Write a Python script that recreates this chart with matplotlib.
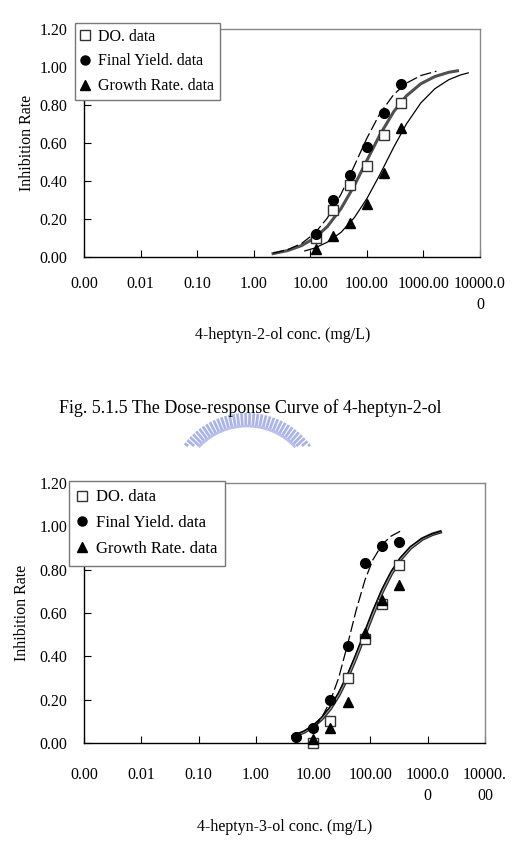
import numpy as np
import matplotlib
matplotlib.use("Agg")
import matplotlib.pyplot as plt
from matplotlib.lines import Line2D
from matplotlib.ticker import NullLocator

plt.rcParams['font.family'] = ['Liberation Serif', 'DejaVu Serif']
plt.rcParams['font.size'] = 11.5

# ---- data ----
# 4-heptyn-2-ol (top)
conc_top = [12.5, 25, 50, 100, 200, 400]
do_top = [0.10, 0.25, 0.38, 0.48, 0.64, 0.81]
fy_top = [0.12, 0.30, 0.43, 0.58, 0.76, 0.91]
gr_top = [0.04, 0.11, 0.18, 0.28, 0.44, 0.68]

# fitted curves
do_top_cx = [2.2, 4, 7, 12, 20, 35, 60, 100, 170, 300, 500, 900, 1600, 2800, 4000]
do_top_cy = [0.018, 0.034, 0.060, 0.100, 0.160, 0.255, 0.376, 0.508, 0.643, 0.766,
             0.848, 0.912, 0.950, 0.972, 0.980]
fy_top_cx = [2.2, 4, 7, 12, 20, 35, 60, 100, 170, 300, 500, 900, 1700]
fy_top_cy = [0.020, 0.039, 0.071, 0.125, 0.205, 0.331, 0.480, 0.625, 0.755, 0.856,
             0.915, 0.955, 0.978]
gr_top_cx = [8, 12, 20, 35, 60, 100, 170, 300, 500, 900, 1600, 2800, 4500, 6200]
gr_top_cy = [0.032, 0.047, 0.078, 0.130, 0.207, 0.307, 0.434, 0.579, 0.700, 0.811,
             0.886, 0.933, 0.958, 0.969]

# 4-heptyn-3-ol (bottom)
conc_bot = [5, 10, 20, 40, 80, 160, 320]
conc_bot_do = [10, 20, 40, 80, 160, 320]
do_bot = [0.00, 0.10, 0.30, 0.48, 0.64, 0.82]
fy_bot = [0.03, 0.07, 0.20, 0.45, 0.83, 0.91, 0.93]
gr_bot = [0.02, 0.07, 0.19, 0.51, 0.66, 0.73]

fy_bot_cx = [10, 14, 20, 28, 40, 56, 80, 110, 160, 230, 330]
fy_bot_cy = [0.065, 0.115, 0.195, 0.302, 0.456, 0.610, 0.751, 0.845, 0.916, 0.955, 0.977]
bot_cx = [4.5, 7, 10, 14, 20, 28, 40, 56, 80, 110, 160, 230, 330, 500, 800, 1200, 1650]
do_bot_cy = [0.031, 0.051, 0.076, 0.110, 0.159, 0.221, 0.303, 0.395, 0.500, 0.594,
             0.697, 0.780, 0.846, 0.900, 0.941, 0.963, 0.974]
gr_bot_cy = [0.033, 0.055, 0.082, 0.118, 0.170, 0.235, 0.320, 0.413, 0.519, 0.613,
             0.713, 0.793, 0.855, 0.907, 0.945, 0.965, 0.976]

xticks = [1e-3, 1e-2, 1e-1, 1, 10, 100, 1000, 10000]
xlabels_top = ['0.00', '0.01', '0.10', '1.00', '10.00', '100.00', '1000.00', '10000.0\n0']
xlabels_bot = ['0.00', '0.01', '0.10', '1.00', '10.00', '100.00', '1000.0\n0', '10000.\n00']
yticks = [0, 0.2, 0.4, 0.6, 0.8, 1.0, 1.2]
legend_labels = ['DO. data', 'Final Yield. data', 'Growth Rate. data']

W, H = 517, 858
fig = plt.figure(figsize=(W / 100, H / 100), dpi=100)


def px_axes(l, t, r, b):
    return fig.add_axes([l / W, 1 - b / H, (r - l) / W, (b - t) / H])


def style(ax, xlabels, pad):
    ax.set_xscale('log')
    ax.set_xlim(1e-3, 1e4)
    ax.set_ylim(0, 1.2)
    ax.set_xticks(xticks, xlabels)
    ax.xaxis.set_minor_locator(NullLocator())
    ax.set_yticks(yticks, ['%.2f' % v for v in yticks])
    ax.tick_params(axis='x', direction='in', length=5, pad=pad, width=0.8)
    ax.tick_params(axis='y', direction='in', length=5, pad=12, width=0.8)
    for lab in ax.get_xticklabels():
        lab.set_linespacing(1.45)
    for s in ['left', 'bottom']:
        ax.spines[s].set_color('black')
        ax.spines[s].set_linewidth(1.0)
    for s in ['top', 'right']:
        ax.spines[s].set_color('#888888')
        ax.spines[s].set_linewidth(1.0)


def add_legend(ax, x, y, fs, spacing, bpad):
    hs = [Line2D([], [], ls='none', marker='s', ms=6.5, mfc='white', mec='#333333', mew=1.0),
          Line2D([], [], ls='none', marker='o', ms=6.5, mfc='black', mec='black'),
          Line2D([], [], ls='none', marker='^', ms=6.5, mfc='black', mec='black')]
    leg = ax.legend(hs, legend_labels, loc='upper left', bbox_to_anchor=(x / W, 1 - y / H),
                    bbox_transform=fig.transFigure, fancybox=False, framealpha=1,
                    edgecolor='#777777', fontsize=fs, handlelength=0.6, handletextpad=0.5,
                    labelspacing=spacing, borderpad=bpad, borderaxespad=0)
    leg.get_frame().set_linewidth(1.0)
    leg.set_zorder(10)


# ---- top chart ----
ax1 = px_axes(84, 29, 480, 257)
style(ax1, xlabels_top, 13.5)
ax1.plot(do_top_cx, do_top_cy, color='#505050', lw=2.2, zorder=2)
ax1.plot(fy_top_cx, fy_top_cy, color='black', lw=0.9, ls=(0, (9, 3)), zorder=2)
ax1.plot(gr_top_cx, gr_top_cy, color='black', lw=0.9, zorder=2)
ax1.plot(conc_top, do_top, ls='none', marker='s', ms=7, mfc='white', mec='#333333', mew=1.0, zorder=4)
ax1.plot(conc_top, fy_top, ls='none', marker='o', ms=7, color='black', zorder=4)
ax1.plot(conc_top, gr_top, ls='none', marker='^', ms=7, color='black', zorder=4)
add_legend(ax1, 75, 23, 11.5, 0.55, 0.35)

# ---- bottom chart ----
ax2 = px_axes(84, 483, 485, 743)
style(ax2, xlabels_bot, 17)
ax2.plot(bot_cx, do_bot_cy, color='#2a2a2a', lw=2.6, zorder=2)
ax2.plot(bot_cx, do_bot_cy, color='#9a9a9a', lw=0.8, zorder=2)
ax2.plot(bot_cx, gr_bot_cy, color='black', lw=0.9, zorder=2)
ax2.plot(fy_bot_cx, fy_bot_cy, color='black', lw=0.9, ls=(0, (9, 3)), zorder=2)
ax2.plot(conc_bot_do, do_bot, ls='none', marker='s', ms=7, mfc='white', mec='#333333', mew=1.0,
         zorder=4, clip_on=False)
ax2.plot(conc_bot, fy_bot, ls='none', marker='o', ms=7, color='black', zorder=4, clip_on=False)
ax2.plot(conc_bot_do, gr_bot, ls='none', marker='^', ms=7, color='black', zorder=4, clip_on=False)
add_legend(ax2, 69, 481, 12, 0.6, 0.5)

# ---- texts ----
fig.text(283 / W, 1 - 335 / H, '4-heptyn-2-ol conc. (mg/L)', ha='center', va='center', fontsize=11.5)
fig.text(285 / W, 1 - 827 / H, '4-heptyn-3-ol conc. (mg/L)', ha='center', va='center', fontsize=11.5)
fig.text(27 / W, 1 - 143 / H, 'Inhibition Rate', rotation=90, ha='center', va='center', fontsize=11.5)
fig.text(22 / W, 1 - 613 / H, 'Inhibition Rate', rotation=90, ha='center', va='center', fontsize=11.5)
fig.text(250 / W, 1 - 408 / H, 'Fig. 5.1.5 The Dose-response Curve of 4-heptyn-2-ol',
         ha='center', va='center', fontsize=13)

# faint logo watermark between the panels (cut off at its lower edge)
ov = fig.add_axes([0, 0, 1, 1], facecolor='none')
ov.set_xlim(0, W)
ov.set_ylim(H, 0)
ov.axis('off')
cx0, cy0, r_in, r_out, y_cut = 247, 492, 66, 79, 446
for ang in np.arange(34, 147, 3.0):
    a = np.radians(ang)
    x1, y1 = cx0 + r_in * np.cos(a), cy0 - r_in * np.sin(a)
    x2, y2 = cx0 + r_out * np.cos(a), cy0 - r_out * np.sin(a)
    if y2 > y_cut:
        continue
    if y1 > y_cut:
        t = (y_cut - y2) / (y1 - y2)
        x1, y1 = x2 + t * (x1 - x2), y_cut
    ov.plot([x1, x2], [y1, y2], color='#aab4e8', lw=2.0, solid_capstyle='butt')
arc = np.radians(np.linspace(44, 136, 60))
ov.plot(cx0 + r_in * np.cos(arc), cy0 - r_in * np.sin(arc), color='#b8c1ec', lw=2.0)
ov.set_ylim(H, 0)

fig.savefig('out.png', dpi=100)
